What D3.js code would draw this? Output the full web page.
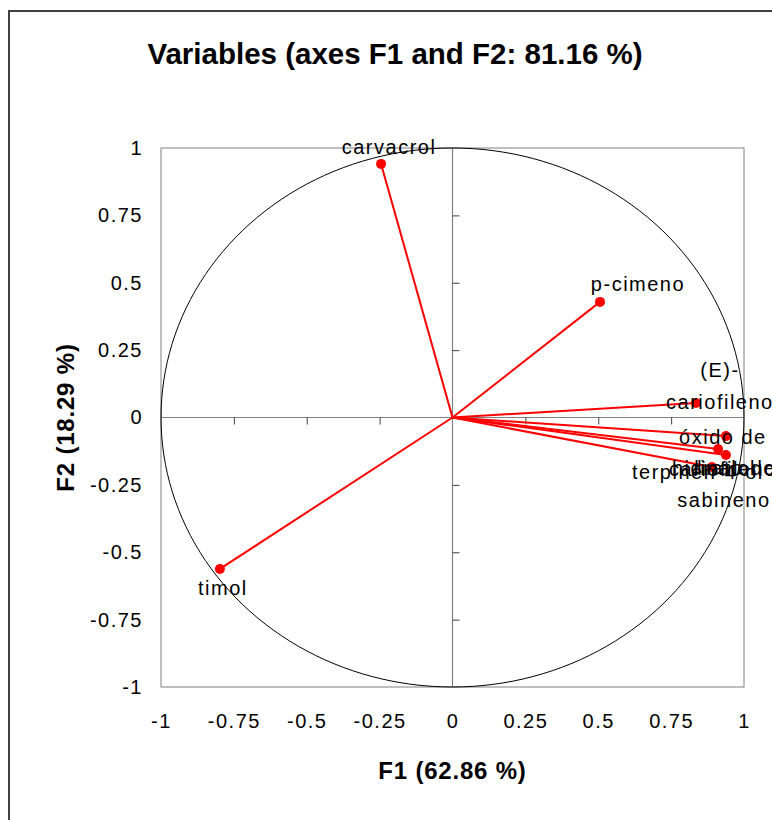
<!DOCTYPE html>
<html>
<head>
<meta charset="utf-8">
<script src="https://cdn.jsdelivr.net/npm/d3@7"></script>
<style>
  html, body { margin: 0; padding: 0; background: #fff; }
  svg { display: block; }
  text { font-family: "Liberation Sans", Arial, sans-serif; fill: #000; }
</style>
</head>
<body>
<svg id="chart" width="772" height="820"></svg>
<script>
// Correlation circle: loadings of each variable on F1 and F2
const variables = ["carvacrol", "p-cimeno", "timol", "(E)-cariofileno",
                   "óxido de cariofileno", "linalol", "terpinen-4-ol", "hidrato de sabineno"];
const f1Values = [-0.245, 0.506, -0.798, 0.835, 0.938, 0.911, 0.938, 0.890];
const f2Values = [0.941, 0.429, -0.562, 0.054, -0.069, -0.117, -0.139, -0.184];

// Text lines of each label (long names wrap)
const labelLines = [["carvacrol"], ["p-cimeno"], ["timol"], ["(E)-", "cariofileno"],
                    ["óxido de", "cariofileno"], ["linalol"], ["terpinen-4-ol"], ["hidrato de", "sabineno"]];
// Label placement relative to its point (px): centre of the first line
const labelDx = [8, 38, 3, 24, -3, 7, -28, 12];
const labelDy = [-17, -18, 19, -33, 1, 19, 17, 1];

const tickValues = [-1, -0.75, -0.5, -0.25, 0, 0.25, 0.5, 0.75, 1];
const innerTicks = [-0.75, -0.5, -0.25, 0.25, 0.5, 0.75];

const titleText = "Variables (axes F1 and F2: 81.16 %)";
const xTitle = "F1 (62.86 %)";
const yTitle = "F2 (18.29 %)";

const svg = d3.select("#chart");

// Chart area frame
svg.append("path")
  .attr("d", "M9,820 V11 H772")
  .attr("fill", "none").attr("stroke", "#404040").attr("stroke-width", 2);

const x = d3.scaleLinear().domain([-1, 1]).range([161, 744]);
const y = d3.scaleLinear().domain([-1, 1]).range([687, 148]);

// Plot box
svg.append("rect")
  .attr("x", x(-1)).attr("y", y(1))
  .attr("width", x(1) - x(-1)).attr("height", y(-1) - y(1))
  .attr("fill", "none").attr("stroke", "#808080").attr("stroke-width", 1);

// Axis lines through the origin
svg.append("line").attr("x1", x(-1)).attr("x2", x(1)).attr("y1", y(0)).attr("y2", y(0))
  .attr("stroke", "#808080").attr("stroke-width", 1.2);
svg.append("line").attr("x1", x(0)).attr("x2", x(0)).attr("y1", y(1)).attr("y2", y(-1))
  .attr("stroke", "#808080").attr("stroke-width", 1.2);

// Tick marks on the origin axes
const yInner = d3.axisRight(y).tickValues(innerTicks).tickSize(7).tickFormat("");
const gyi = svg.append("g").attr("transform", `translate(${x(0)},0)`).call(yInner);
gyi.select(".domain").remove();
gyi.selectAll("line").attr("stroke", "#404040");
const xInner = d3.axisBottom(x).tickValues(innerTicks).tickSize(7).tickFormat("");
const gxi = svg.append("g").attr("transform", `translate(0,${y(0)})`).call(xInner);
gxi.select(".domain").remove();
gxi.selectAll("line").attr("stroke", "#404040");

// Tick labels around the box
const fmt = d => String(d);
const gy = svg.append("g").attr("transform", `translate(${x(-1)},0)`)
  .call(d3.axisLeft(y).tickValues(tickValues).tickSize(0).tickPadding(18).tickFormat(fmt));
gy.select(".domain").remove();
gy.selectAll("text").attr("font-size", 20).attr("letter-spacing", 1.5)
  .attr("font-family", "Liberation Sans, Arial, sans-serif");
const gx = svg.append("g").attr("transform", `translate(0,${y(-1)})`)
  .call(d3.axisBottom(x).tickValues(tickValues).tickSize(0).tickPadding(27).tickFormat(fmt));
gx.select(".domain").remove();
gx.selectAll("text").attr("font-size", 20).attr("letter-spacing", 1.5)
  .attr("font-family", "Liberation Sans, Arial, sans-serif");

// Unit circle
const angles = d3.range(0, 361, 2).map(a => a * Math.PI / 180);
svg.append("path")
  .datum(angles)
  .attr("d", d3.line().x(a => x(Math.cos(a))).y(a => y(Math.sin(a))))
  .attr("fill", "none").attr("stroke", "#000").attr("stroke-width", 1);

// Vectors
const data = variables.map((name, i) => ({
  name, f1: f1Values[i], f2: f2Values[i],
  lines: labelLines[i], dx: labelDx[i], dy: labelDy[i]
}));

svg.append("g").selectAll("line").data(data).join("line")
  .attr("x1", x(0)).attr("y1", y(0))
  .attr("x2", d => x(d.f1)).attr("y2", d => y(d.f2))
  .attr("stroke", "#ff0000").attr("stroke-width", 2);

svg.append("g").selectAll("circle").data(data).join("circle")
  .attr("cx", d => x(d.f1)).attr("cy", d => y(d.f2)).attr("r", 5)
  .attr("fill", "#ff0000");

// Labels
const lab = svg.append("g").selectAll("text").data(data).join("text")
  .attr("font-size", 20).attr("letter-spacing", 1.5).attr("text-anchor", "middle");
lab.each(function(d) {
  const t = d3.select(this);
  d.lines.forEach((ln, j) => {
    t.append("tspan")
      .attr("x", x(d.f1) + d.dx)
      .attr("y", y(d.f2) + d.dy + j * 32)
      .attr("dy", "0.35em")
      .text(ln);
  });
});

// Titles
svg.append("text").attr("x", 395).attr("y", 64).attr("text-anchor", "middle")
  .attr("font-size", 29.5).attr("font-weight", "bold").text(titleText);
svg.append("text").attr("x", x(0)).attr("y", 779).attr("text-anchor", "middle")
  .attr("font-size", 24).attr("letter-spacing", 0.8).attr("font-weight", "bold").text(xTitle);
svg.append("text").attr("transform", `translate(74,${y(0)}) rotate(-90)`).attr("text-anchor", "middle")
  .attr("font-size", 24).attr("letter-spacing", 0.8).attr("font-weight", "bold").text(yTitle);
</script>
</body>
</html>
